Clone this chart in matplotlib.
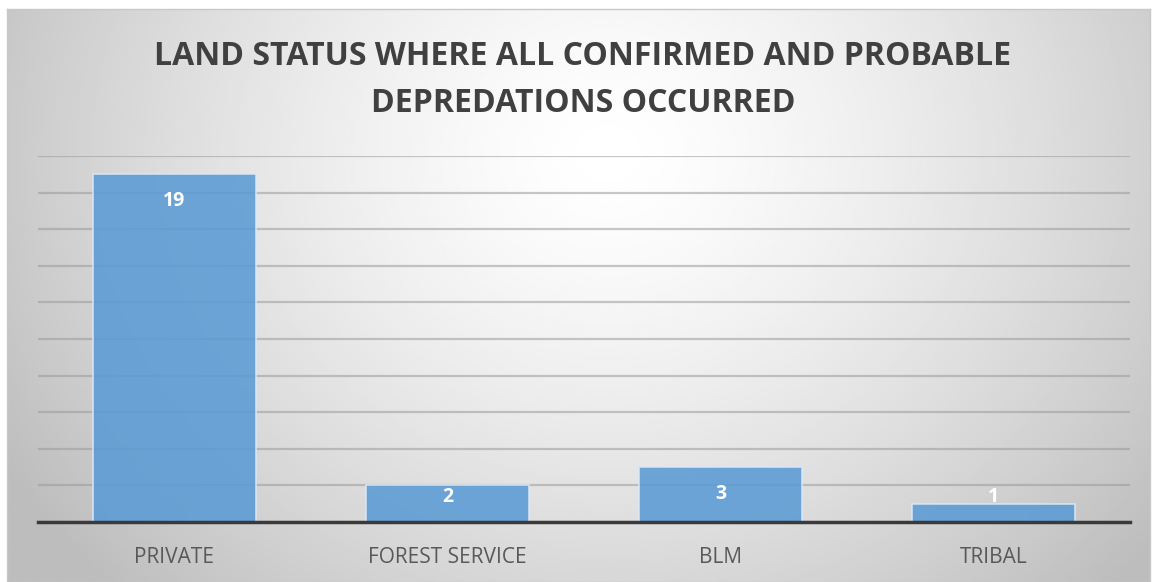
import numpy as np
import matplotlib
matplotlib.use("Agg")
import matplotlib.pyplot as plt

categories = ["PRIVATE", "FOREST SERVICE", "BLM", "TRIBAL"]
counts = [19, 2, 3, 1]
title = "LAND STATUS WHERE ALL CONFIRMED AND PROBABLE\nDEPREDATIONS OCCURRED"

plt.rcParams["font.family"] = ["Open Sans", "DejaVu Sans"]

W, H = 1156, 582
fig = plt.figure(figsize=(W / 100, H / 100), dpi=100)
fig.patch.set_facecolor("white")

# radial gradient background of the chart frame
bg = fig.add_axes([7 / W, 0, 1143 / W, (H - 9) / H])
yy, xx = np.mgrid[0:200, 0:400]
cx, cy = 210, 50
r = np.sqrt(((xx - cx) / 240.0) ** 2 + ((yy - cy) / 210.0) ** 2)
shade = np.clip(1.0 - 0.25 * r ** 1.4, 0.74, 1.0)
bg.imshow(shade, cmap="gray", vmin=0, vmax=1, aspect="auto",
          extent=[0, 1, 0, 1], origin="upper")
bg.set_xticks([])
bg.set_yticks([])
for s in bg.spines.values():
    s.set_color("#c8c8c8")
    s.set_linewidth(1)

ax = fig.add_axes([38 / W, (H - 522) / H, 1092 / W, 366 / H])
ax.patch.set_alpha(0)
x = np.arange(len(categories))
bars = ax.bar(x, counts, width=0.6, color="#5b9bd5", alpha=0.88,
              edgecolor="#dce9f5", linewidth=1.2, zorder=3)
ax.set_xlim(-0.5, len(categories) - 0.5)
ax.set_ylim(0, 20)
ax.set_yticks(np.arange(0, 21, 2))
ax.yaxis.grid(True, color="#9a9a9a", alpha=0.55, linewidth=1.6, zorder=0)
ax.tick_params(axis="y", length=0, labelleft=False)
ax.tick_params(axis="x", length=0, pad=18)
ax.set_xticks(x)
ax.set_xticklabels(categories, fontsize=15, color="#595959")
for s in ["top", "right", "left"]:
    ax.spines[s].set_visible(False)
ax.spines["bottom"].set_color("#3a3a3a")
ax.spines["bottom"].set_linewidth(2.5)
ax.spines["bottom"].set_zorder(4)

for b, v in zip(bars, counts):
    ax.text(b.get_x() + b.get_width() / 2, max(v - 1.45, 1.37), str(v),
            ha="center", va="center", color="white", fontsize=14,
            fontweight="bold", zorder=5)

fig.text(583 / W, 1 - 80 / H, title, ha="center", va="center",
         fontsize=23, fontweight="bold", color="#404040", linespacing=1.55)

fig.savefig("out.png", dpi=100)
